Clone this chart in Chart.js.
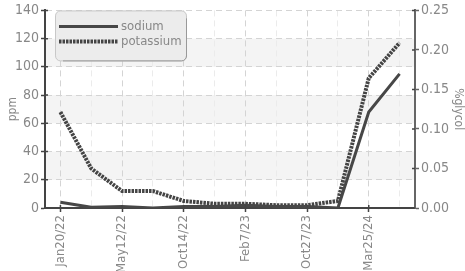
<!DOCTYPE html>
<html><head><meta charset="utf-8">
<script src="https://cdn.jsdelivr.net/npm/chart.js@4.4.0/dist/chart.umd.min.js"></script>
<style>html,body{margin:0;padding:0;background:#fff;}#wrap{width:465px;height:271px;position:relative;}</style>
</head><body><div id="wrap"><canvas id="c" width="465" height="271"></canvas></div>
<script>
const categories = ["Jan20/22","Mar16/22","May12/22","Jul20/22","Oct14/22","Dec9/22","Feb7/23","Jun5/23","Oct27/23","Jan10/24","Mar25/24","Jun2/24"];
const labeledIdx = [0,2,4,6,8,10];
const sodium = [4, 0.5, 1, 0, 1, 1, 2, 1, 1, 0, 68, 95];
const potassium = [68, 28, 12, 12, 5, 3, 3, 2, 2, 5, 92, 117];
const ppmTicks = [0,20,40,60,80,100,120,140];
const glycolTicks = [0,0.05,0.10,0.15,0.20,0.25];

const FONT = "'Liberation Sans Narrow','DejaVu Sans Condensed','Roboto',sans-serif";
const TXT = '#888';
const AX = '#444';

const bands = {
  id:'bands',
  beforeDraw(chart){
    const {ctx, chartArea:a, scales:{y}} = chart;
    ctx.save(); ctx.fillStyle='#f4f4f4';
    [[20,40],[60,80],[100,120]].forEach(([lo,hi])=>{
      const t=y.getPixelForValue(hi), b=y.getPixelForValue(lo);
      ctx.fillRect(a.left,t,a.right-a.left,b-t);
    });
    ctx.restore();
  }
};
const innerTicks = {
  id:'innerTicks',
  afterDraw(chart){
    const {ctx, chartArea:a, scales:{x,y,y2}} = chart;
    ctx.save(); ctx.strokeStyle=AX; ctx.lineWidth=1.5;
    ctx.beginPath();
    ppmTicks.forEach(v=>{const p=y.getPixelForValue(v); ctx.moveTo(a.left,p); ctx.lineTo(a.left+3,p);});
    glycolTicks.forEach(v=>{const p=y2.getPixelForValue(v); ctx.moveTo(a.right,p); ctx.lineTo(a.right-3,p);});
    labeledIdx.forEach(i=>{const p=x.getPixelForValue(i); ctx.moveTo(p,a.bottom); ctx.lineTo(p,a.bottom-3);});
    ctx.stroke();
    // legend box
    const lx=a.left+10, ly=a.top, lw=131, lh=50;
    ctx.fillStyle='#ececec'; ctx.strokeStyle='#c8c8c8'; ctx.lineWidth=1;
    ctx.beginPath(); ctx.roundRect(lx+0.5,ly+0.5,lw,lh,5); ctx.fill(); ctx.stroke();
    ctx.strokeStyle='#999'; ctx.beginPath(); ctx.moveTo(lx+lw+0.5,ly+8); ctx.lineTo(lx+lw+0.5,ly+lh-4); ctx.arcTo(lx+lw+0.5,ly+lh+0.5,lx+lw-4,ly+lh+0.5,5); ctx.lineTo(lx+8,ly+lh+0.5); ctx.stroke();
    chart.data.datasets.forEach((ds,i)=>{
      const yy = ly+16+i*15;
      ctx.strokeStyle=ds.borderColor; ctx.lineWidth=ds.borderWidth; ctx.setLineDash(ds.borderDash||[]);
      ctx.beginPath(); ctx.moveTo(lx+4,yy); ctx.lineTo(lx+63,yy); ctx.stroke();
      ctx.setLineDash([]);
      ctx.fillStyle=TXT; ctx.font='13px '+FONT; ctx.textBaseline='middle'; ctx.textAlign='left';
      ctx.fillText(ds.label, lx+66, yy+0.5);
    });
    ctx.restore();
  }
};

new Chart(document.getElementById('c'), {
  type:'line',
  data:{
    labels: categories,
    datasets:[
      {label:'sodium', data:sodium, borderColor:'#474747', borderWidth:3, pointRadius:0, tension:0, yAxisID:'y'},
      {label:'potassium', data:potassium, borderColor:'#444', borderWidth:4, borderDash:[2.5,1], pointRadius:0, tension:0, yAxisID:'y'}
    ]
  },
  options:{
    responsive:false, animation:false, devicePixelRatio:1,
    layout:{padding:{top:10,left:0,right:0,bottom:0}},
    plugins:{legend:{display:false}, tooltip:{enabled:false}},
    scales:{
      x:{
        offset:true,
        afterFit(s){s.height=63;},
        border:{color:AX,width:2,dash:[6,4]},
        grid:{
          color:(c)=> (c.index%2===0)?'#d4d4d4':'#ebebeb',
          tickLength:4,
          tickColor:(c)=> (c.index%2===0)?AX:'rgba(0,0,0,0)', tickBorderDash:[], tickWidth:1.5
        },
        ticks:{color:TXT, font:{family:FONT,size:13}, minRotation:90, maxRotation:90, autoSkip:false, padding:3,
          callback:(v,i)=> (i%2===0)?categories[i]:''}
      },
      y:{
        position:'left', min:0, max:140,
        afterFit(s){s.width=45;},
        border:{color:AX,width:2,dash:[6,4]},
        grid:{color:'#d4d4d4', tickLength:4, tickColor:AX, tickBorderDash:[], tickWidth:1.5},
        ticks:{color:TXT, font:{family:FONT,size:14}, stepSize:20, padding:2},
        title:{display:true, text:'ppm', color:TXT, font:{family:FONT,size:12}, padding:{top:6,bottom:0}}
      },
      y2:{
        position:'right', min:0, max:0.25,
        afterFit(s){s.width=50;},
        border:{color:'#666',width:2},
        grid:{drawOnChartArea:false, tickLength:4, tickColor:'#666', tickWidth:1.5},
        ticks:{color:TXT, font:{family:FONT,size:14}, stepSize:0.05, padding:2, callback:(v)=>Number(v).toFixed(2)},
        title:{display:true, text:'%glycol', color:TXT, font:{family:FONT,size:12}, padding:0}
      }
    }
  },
  plugins:[bands, innerTicks]
});
</script></body></html>
